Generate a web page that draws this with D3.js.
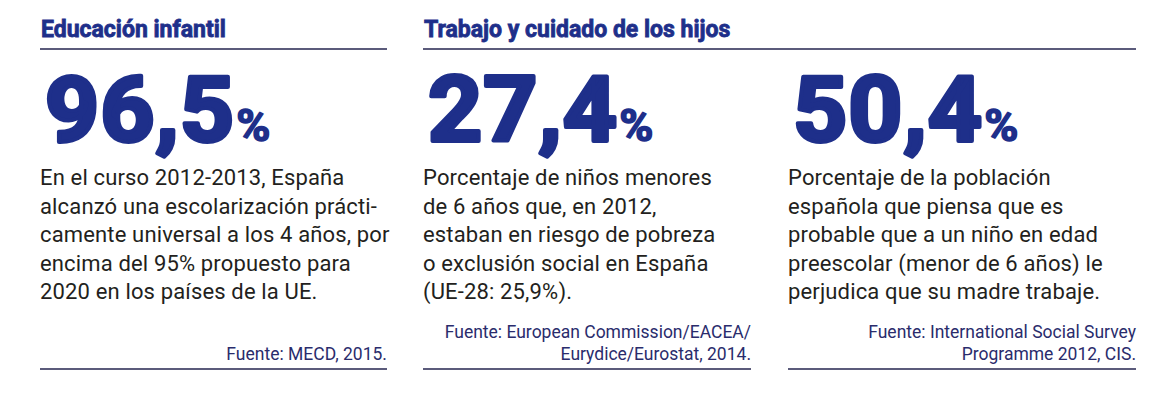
<!DOCTYPE html>
<html>
<head>
<meta charset="utf-8">
<script src="https://cdn.jsdelivr.net/npm/d3@7"></script>
<style>
  html, body { margin: 0; padding: 0; background: #fff; }
  svg { display: block; }
</style>
</head>
<body>
<script>
// data
const sections = ["Educación infantil", "Trabajo y cuidado de los hijos"];
const sectionCols = [[0, 0], [1, 2]];
const values = [96.5, 27.4, 50.4];
const descriptions = [
  ["En el curso 2012-2013, España", "alcanzó una escolarización prácti-", "camente universal a los 4 años, por", "encima del 95% propuesto para", "2020 en los países de la UE."],
  ["Porcentaje de niños menores", "de 6 años que, en 2012,", "estaban en riesgo de pobreza", "o exclusión social en España", "(UE-28: 25,9%)."],
  ["Porcentaje de la población", "española que piensa que es", "probable que a un niño en edad", "preescolar (menor de 6 años) le", "perjudica que su madre trabaje."]
];
const sources = [
  ["Fuente: MECD, 2015."],
  ["Fuente: European Commission/EACEA/", "Eurydice/Eurostat, 2014."],
  ["Fuente: International Social Survey", "Programme 2012, CIS."]
];

const width = 1161, height = 403;
const blue = "#1e2f8a", navy = "#24254f", ink = "#231f20", srcColor = "#2a2c6c";

// column edges
const colLeft = [40, 423, 788];
const colRight = [387, 751, 1136];

const es = d3.formatLocale({decimal: ",", thousands: ".", grouping: [3], currency: ["", "€"]});
const fmt = es.format(".1f");

const lineY = d3.scaleLinear().domain([0, 1]).range([185, 213.6]);

const svg = d3.select("body").append("svg")
    .attr("width", width)
    .attr("height", height)
    .attr("viewBox", [0, 0, width, height]);

// section titles + rules
const head = svg.append("g")
  .selectAll("g")
  .data(sections)
  .join("g");

head.append("text")
    .attr("x", (d, i) => colLeft[sectionCols[i][0]] + 1)
    .attr("y", 37)
    .attr("fill", blue)
    .attr("stroke", blue)
    .attr("stroke-width", 0.8)
    .attr("font-family", "Roboto, sans-serif")
    .attr("font-weight", 700)
    .attr("font-size", 23)
    .attr("letter-spacing", 0)
    .text(d => d);

head.append("line")
    .attr("x1", (d, i) => colLeft[sectionCols[i][0]])
    .attr("x2", (d, i) => colRight[sectionCols[i][1]])
    .attr("y1", 49)
    .attr("y2", 49)
    .attr("stroke", navy)
    .attr("stroke-width", 1.5);

// columns
const col = svg.append("g")
  .selectAll("g")
  .data(values)
  .join("g")
    .attr("transform", (d, i) => `translate(${colLeft[i]},0)`);

// big figure: bold + same-colour stroke to get the black weight,
// slightly stretched so the digits are wide like the original face
const big = col.append("g")
    .attr("transform", "translate(5,141) scale(1.05,1)")
  .append("text")
    .attr("fill", blue)
    .attr("stroke", blue)
    .attr("stroke-width", 4)
    .attr("stroke-linejoin", "round")
    .attr("font-family", "Roboto, sans-serif")
    .attr("font-weight", 700)
    .attr("font-size", 90)
    .attr("letter-spacing", 1);

big.append("tspan").text(d => fmt(d));
big.append("tspan")
    .attr("dx", 1)
    .attr("font-size", 44)
    .attr("stroke-width", 1.5)
    .attr("letter-spacing", 0)
    .text("%");

col.append("text")
    .attr("fill", ink)
    .attr("font-family", "Roboto, sans-serif")
    .attr("font-size", 22)
    .attr("letter-spacing", 0.15)
  .selectAll("tspan")
  .data((d, i) => descriptions[i])
  .join("tspan")
    .attr("x", 0)
    .attr("y", (d, j) => lineY(j))
    .text(d => d);

col.append("text")
    .attr("fill", srcColor)
    .attr("font-family", "Roboto, sans-serif")
    .attr("font-size", 17.5)
    .attr("text-anchor", "end")
  .selectAll("tspan")
  .data((d, i) => sources[i].map((s, j, a) => ({s, k: a.length - 1 - j, w: colRight[i] - colLeft[i]})))
  .join("tspan")
    .attr("x", d => d.w)
    .attr("y", d => 360 - d.k * 22)
    .text(d => d.s);

col.append("line")
    .attr("x1", 0)
    .attr("x2", (d, i) => colRight[i] - colLeft[i])
    .attr("y1", 369)
    .attr("y2", 369)
    .attr("stroke", navy)
    .attr("stroke-width", 1.5);
</script>
</body>
</html>
